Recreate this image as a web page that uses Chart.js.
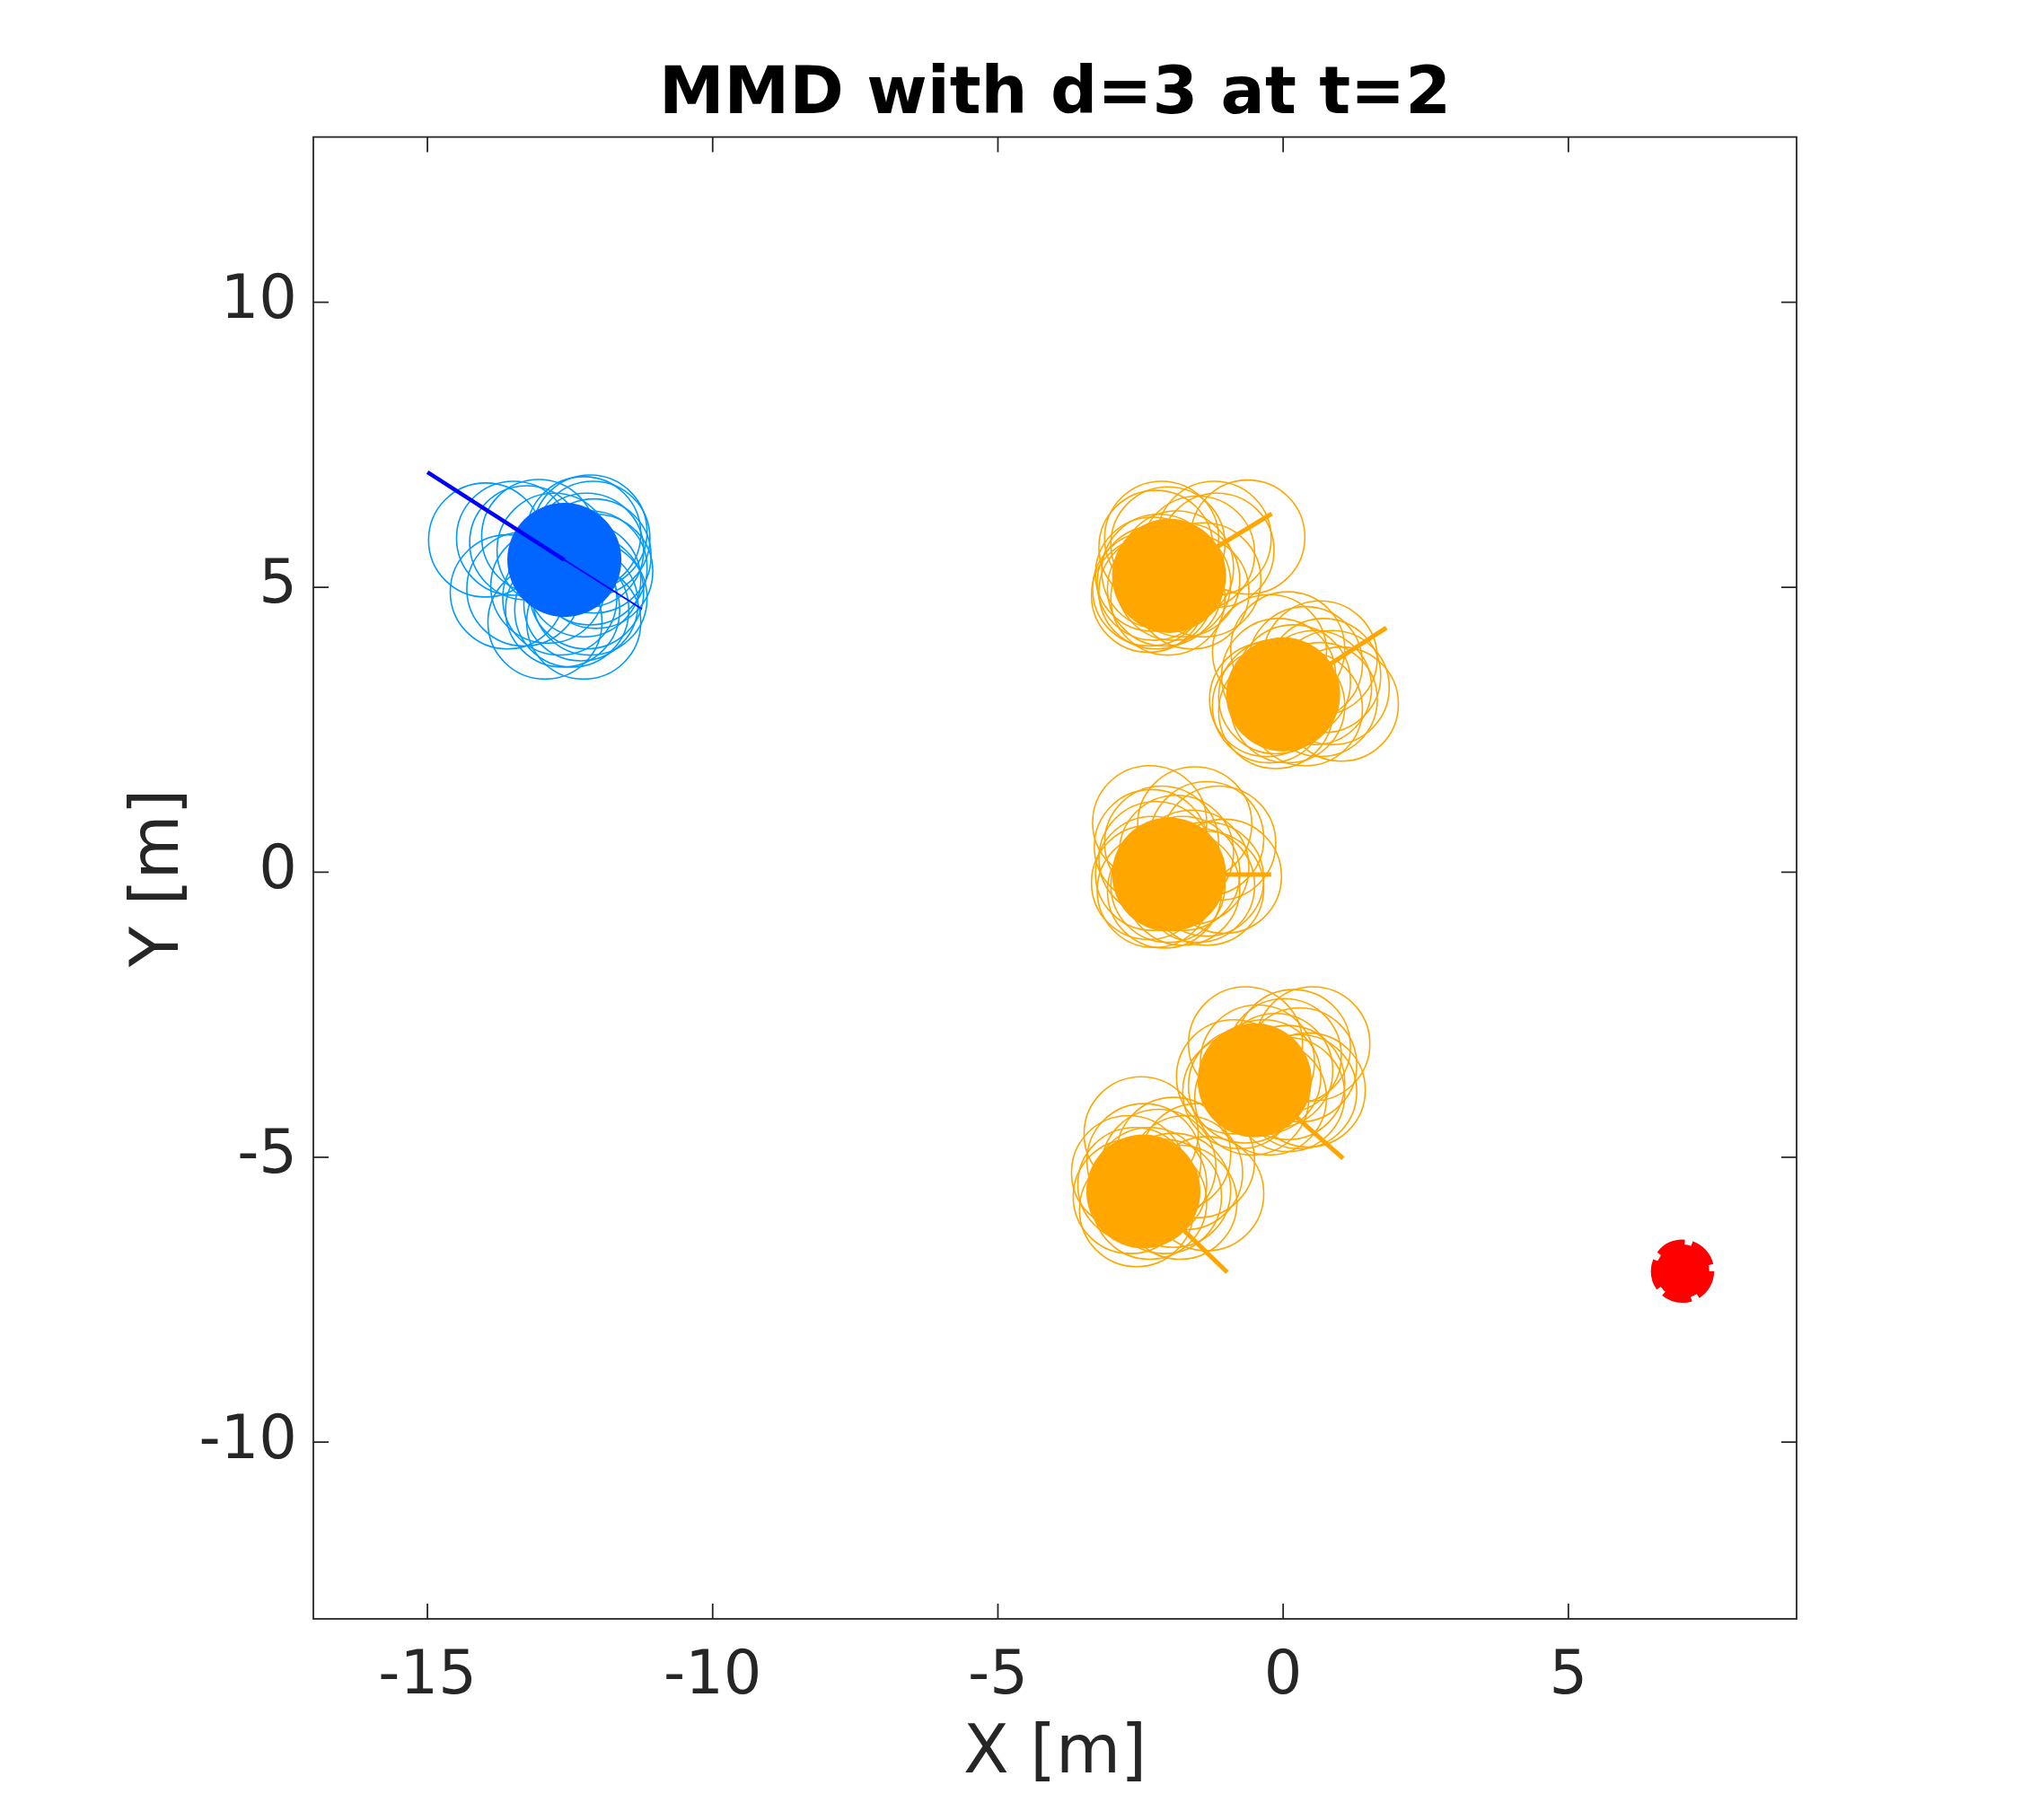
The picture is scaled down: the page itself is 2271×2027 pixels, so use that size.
<!DOCTYPE html>
<html><head><meta charset="utf-8">
<script src="https://cdn.jsdelivr.net/npm/chart.js@4"></script>
<style>html,body{margin:0;padding:0;background:#fff;}canvas{display:block;}</style>
</head><body>
<canvas id="c" width="2271" height="2027" style="width:2271px;height:2027px"></canvas>
<script>
// ---- text & axes ----
const chartTitle = 'MMD with d=3 at t=2';
const xAxisLabel = 'X [m]';
const yAxisLabel = 'Y [m]';
const xTicks = [-15, -10, -5, 0, 5];
const yTicks = [-10, -5, 0, 5, 10];
const xRange = [-17, 9];
const yRange = [-13.1, 12.9];

// ---- ego agent (blue) ----
const egoPos = [-12.6, 5.48];
const egoTail = [-15.0, 7.02];
const egoHead = [-11.24, 4.62];
const egoSamplesX = [-13.98,-13.60,-13.49,-13.26,-13.05,-13.31,-12.94,-12.26,-12.63,-12.26,-12.15,-12.10,-12.21,-12.08,-12.15,-12.26,-12.21,-12.15,-12.31,-12.47,-12.68,-12.89,-12.05,-12.78];
const egoSamplesY = [5.83,4.92,5.86,5.78,5.89,4.97,4.39,4.39,4.60,5.94,5.97,5.86,5.65,5.55,5.34,5.13,4.92,4.81,4.71,4.60,4.81,5.02,5.28,5.65];

// ---- other agents (orange) ----
const agentX = [-2.0, 0.0, -2.0, -0.5, -2.45];
const agentY = [5.2, 3.12, -0.04, -3.65, -5.6];
const agentHeadX = [-0.2, 1.81, -0.21, 1.05, -0.98];
const agentHeadY = [6.29, 4.29, -0.04, -5.02, -7.02];
const agent1SamplesX = [-0.62,-1.21,-2.13,-2.23,-2.02,-2.34,-2.36,-2.23,-2.26,-2.08,-1.76,-1.39,-1.16,-1.50,-1.87,-2.18,-2.29,-2.02,-1.60,-1.92];
const agent1SamplesY = [5.88,5.86,5.86,5.70,5.76,4.97,4.86,4.92,5.07,4.97,5.13,5.13,5.65,5.60,5.34,5.28,5.23,4.81,4.92,5.07];
const agent2SamplesX = [1.02,0.08,-0.24,0.39,0.71,-0.29,-0.24,-0.13,0.08,0.39,0.65,0.86,0.55,0.18,-0.08,-0.13,0.65];
const agent2SamplesY = [2.95,3.92,3.87,3.66,3.45,3.03,2.92,3.08,2.92,2.87,3.03,3.24,3.24,3.34,3.45,2.82,3.76];
const agent3SamplesX = [-2.34,-1.55,-1.34,-1.13,-1.03,-1.34,-1.50,-2.36,-2.29,-2.26,-2.02,-1.76,-2.13,-2.31,-1.87,-1.60,-1.76,-1.34,-2.08,-2.23];
const agent3SamplesY = [0.87,0.85,0.59,0.51,-0.07,-0.12,-0.23,-0.18,-0.02,-0.32,-0.23,-0.28,0.51,0.45,0.35,0.09,-0.02,-0.28,-0.33,0.24];
const agent4SamplesX = [0.52,0.18,-0.66,-0.45,0.44,0.29,0.08,-0.76,-0.66,-0.55,-0.24,0.08,-0.13,-0.34,-0.87,0.29,0.02];
const agent4SamplesY = [-3.01,-3.06,-3.01,-3.33,-3.82,-3.85,-3.90,-3.85,-3.75,-3.96,-3.96,-3.69,-3.48,-3.59,-3.59,-3.38,-3.22];
const agent5SamplesX = [-2.49,-1.92,-1.34,-1.71,-2.68,-2.60,-2.57,-2.34,-2.08,-1.81,-2.18,-2.44,-2.71,-1.50,-2.34,-1.92];
const agent5SamplesY = [-4.59,-4.95,-5.64,-5.27,-5.69,-5.48,-5.92,-5.79,-5.69,-5.79,-5.16,-5.06,-5.27,-5.06,-5.48,-5.58];

// ---- goal (red) ----
const goalPos = [7.0, -7.0];

// sizes in data units (metres)
const agentRadius = 1.0;
const goalFillRadius = 0.47;
const goalRingRadius = 0.5;

const BLUE_LIGHT = '#0099FF', BLUE_FILL = '#0066FF', BLUE_LINE = '#0000FF';
const ORANGE = '#FFA600', RED = '#FF0000', AXIS = '#262626';
const FONT = 'DejaVu Sans';

const toPts = (xs, ys) => xs.map((x, i) => ({x, y: ys[i]}));
const unitPx = (chart) => Math.abs(chart.scales.x.getPixelForValue(1) - chart.scales.x.getPixelForValue(0));
const rad = (r) => (ctx) => r * unitPx(ctx.chart);

const datasets = [];
function outline(xs, ys, color) {
  datasets.push({data: toPts(xs, ys), pointStyle: 'circle', radius: rad(agentRadius),
    backgroundColor: 'rgba(0,0,0,0)', borderColor: color, borderWidth: 1.6, order: 3});
}
function filled(p, color) {
  datasets.push({data: [{x: p[0], y: p[1]}], pointStyle: 'circle', radius: rad(agentRadius),
    backgroundColor: color, borderColor: color, borderWidth: 0, order: 2});
}
function seg(a, b, color, w) {
  datasets.push({data: [{x: a[0], y: a[1]}, {x: b[0], y: b[1]}], showLine: true, radius: 0,
    borderColor: color, borderWidth: w, order: 1});
}

outline(egoSamplesX, egoSamplesY, BLUE_LIGHT);
filled(egoPos, BLUE_FILL);
seg(egoTail, egoPos, BLUE_LINE, 4.5);
seg(egoPos, egoHead, BLUE_LINE, 1.8);

const agentSamples = [[agent1SamplesX, agent1SamplesY],[agent2SamplesX, agent2SamplesY],[agent3SamplesX, agent3SamplesY],[agent4SamplesX, agent4SamplesY],[agent5SamplesX, agent5SamplesY]];
agentX.forEach((ax, i) => {
  outline(agentSamples[i][0], agentSamples[i][1], ORANGE);
  filled([ax, agentY[i]], ORANGE);
  seg([ax, agentY[i]], [agentHeadX[i], agentHeadY[i]], ORANGE, 5);
});

datasets.push({data: [{x: goalPos[0], y: goalPos[1]}], pointStyle: 'circle', radius: rad(goalFillRadius),
  backgroundColor: RED, borderWidth: 0, order: 0});
datasets.push({data: [{x: goalPos[0], y: goalPos[1]}], pointStyle: 'circle', radius: rad(goalRingRadius),
  backgroundColor: 'rgba(0,0,0,0)', borderColor: RED, borderWidth: 7, ringDash: [32, 8], order: 0});

const dashPlugin = {
  id: 'dashPlugin',
  beforeDatasetDraw(chart, args) {
    const ds = chart.data.datasets[args.index];
    chart.ctx.setLineDash(ds.ringDash || []);
  },
  afterDatasetDraw(chart) { chart.ctx.setLineDash([]); }
};

const boxPlugin = {
  id: 'boxPlugin',
  afterDraw(chart) {
    const {ctx, chartArea: a, scales: {x, y}} = chart;
    const L = 17;
    ctx.save();
    ctx.strokeStyle = AXIS;
    ctx.lineWidth = 1.8;
    ctx.strokeRect(a.left, a.top, a.right - a.left, a.bottom - a.top);
    ctx.beginPath();
    xTicks.forEach(v => {
      const px = x.getPixelForValue(v);
      ctx.moveTo(px, a.bottom); ctx.lineTo(px, a.bottom - L);
      ctx.moveTo(px, a.top); ctx.lineTo(px, a.top + L);
    });
    yTicks.forEach(v => {
      const py = y.getPixelForValue(v);
      ctx.moveTo(a.left, py); ctx.lineTo(a.left + L, py);
      ctx.moveTo(a.right, py); ctx.lineTo(a.right - L, py);
    });
    ctx.stroke();
    ctx.restore();
  }
};

new Chart(document.getElementById('c'), {
  type: 'scatter',
  data: {datasets},
  plugins: [dashPlugin, boxPlugin],
  options: {
    responsive: false,
    devicePixelRatio: 1,
    animation: false,
    events: [],
    layout: {padding: {top: 0, left: 0, right: 270, bottom: 0}},
    plugins: {
      legend: {display: false},
      tooltip: {enabled: false},
      title: {display: true, text: chartTitle, fullSize: false, color: '#000',
        font: {family: FONT, size: 73, weight: 'bold'}, padding: {top: 63, bottom: 2}}
    },
    scales: {
      x: {
        type: 'linear', min: xRange[0], max: xRange[1],
        afterBuildTicks: (s) => { s.ticks = xTicks.map(v => ({value: v})); },
        afterFit: (s) => { s.height = 224; },
        grid: {display: false, drawTicks: false},
        border: {display: false},
        ticks: {autoSkip: false, maxRotation: 0, color: AXIS, padding: 25, font: {family: FONT, size: 67}},
        title: {display: true, text: xAxisLabel, color: AXIS, font: {family: FONT, size: 74}, padding: {top: 0, bottom: 28}}
      },
      y: {
        type: 'linear', min: yRange[0], max: yRange[1],
        afterBuildTicks: (s) => { s.ticks = yTicks.map(v => ({value: v})); },
        afterFit: (s) => { s.width = 349; },
        grid: {display: false, drawTicks: false},
        border: {display: false},
        ticks: {autoSkip: false, color: AXIS, padding: 18, font: {family: FONT, size: 67}},
        title: {display: true, text: yAxisLabel, color: AXIS, font: {family: FONT, size: 74}, padding: {top: 134, bottom: 0}}
      }
    }
  }
});
</script>
</body></html>
